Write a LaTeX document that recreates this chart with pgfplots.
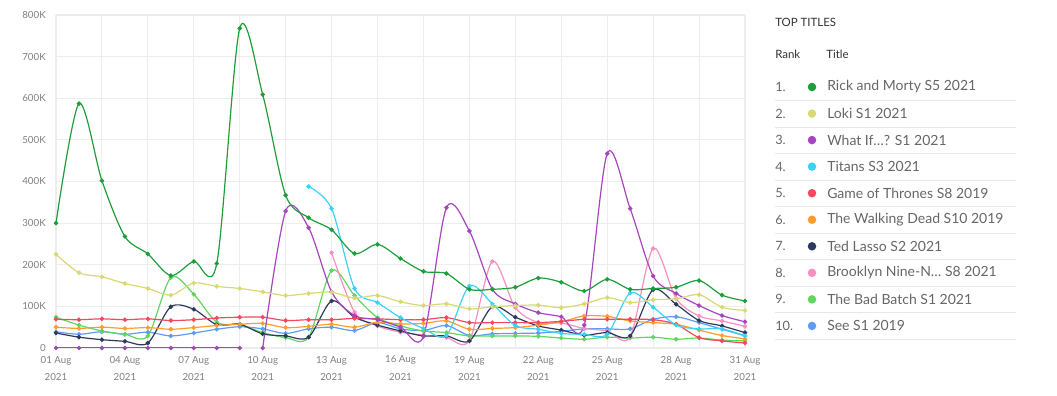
\documentclass[border=0pt]{standalone}
\usepackage{fontspec}
\setmainfont{Lato}
\usepackage{pgfplots}
\pgfplotsset{compat=1.18}
\definecolor{rm}{HTML}{1E9E3A}
\definecolor{loki}{HTML}{D9D872}
\definecolor{wif}{HTML}{A646BE}
\definecolor{tit}{HTML}{3BD2F4}
\definecolor{got}{HTML}{F5475E}
\definecolor{twd}{HTML}{FF9C2E}
\definecolor{ted}{HTML}{2D3A5C}
\definecolor{b99}{HTML}{F78FC0}
\definecolor{bb}{HTML}{5FD65E}
\definecolor{see}{HTML}{5E9CF4}
\definecolor{tickgray}{HTML}{808080}
\definecolor{txtgray}{HTML}{666666}
\definecolor{dark}{HTML}{333333}
\begin{document}
\begin{tikzpicture}[x=0.75pt,y=0.75pt]
\begin{axis}[
  at={(42pt,36pt)}, anchor=south west,
  scale only axis, width=516.75pt, height=249.75pt,
  xmin=1, xmax=31, ymin=0, ymax=800000,
  axis line style={draw=none},
  xtick={1,4,7,10,13,16,19,22,25,28,31},
  xticklabels={01 Aug\\2021,04 Aug\\2021,07 Aug\\2021,10 Aug\\2021,13 Aug\\2021,16 Aug\\2021,19 Aug\\2021,22 Aug\\2021,25 Aug\\2021,28 Aug\\2021,31 Aug\\2021},
  minor xtick={1,3,...,31},
  xmajorgrids=false, xminorgrids=true,
  ytick={0,100000,...,800000},
  yticklabels={0,100K,200K,300K,400K,500K,600K,700K,800K},
  scaled y ticks=false,
  ymajorgrids=true,
  major tick length=0pt, minor tick length=0pt,
  grid style={draw=black!7, line width=0.8pt},
  minor grid style={draw=black!7, line width=0.8pt},
  /pgf/number format/assume math mode=true,
  x tick label style={font=\fontsize{7.3}{12.8}\selectfont, text=tickgray, align=center, inner sep=0pt, yshift=-5.8pt},
  y tick label style={font=\fontsize{7.3}{9}\selectfont, text=tickgray, anchor=east, inner sep=0pt, xshift=-7.5pt},
  every axis plot/.append style={smooth, tension=0.5, line width=0.9pt, mark=*, mark size=1.2pt, mark options={solid}},
]
% See S1 2019
\addplot[color=see] coordinates {(1,39000)(2,33000)(3,39000)(4,33000)(5,38000)(6,29000)(7,36000)(8,45000)(9,51000)(10,46000)(11,35000)(12,46000)(13,50000)(14,42000)(15,61000)(16,46000)(17,42000)(18,54000)(19,30000)(20,34000)(21,35000)(22,36000)(23,40000)(24,46000)(25,46000)(26,46000)(27,69000)(28,75000)(29,61000)(30,45000)(31,29000)};
% The Bad Batch
\addplot[color=bb] coordinates {(1,74000)(2,55000)(3,41000)(4,33000)(5,29000)(6,169000)(7,129000)(8,62000)(9,56000)(10,37000)(11,25000)(12,26000)(13,186000)(14,126000)(15,73000)(16,53000)(17,41000)(18,37000)(19,29000)(20,29000)(21,29000)(22,28000)(23,24000)(24,21000)(25,26000)(26,24000)(27,26000)(28,21000)(29,24000)(30,19000)(31,17000)};
% Brooklyn Nine-Nine
\addplot[color=b99] coordinates {(13,229000)(14,86000)(15,53000)(16,38000)(17,31000)(18,25000)(19,18000)(20,208000)(21,97000)(22,61000)(23,60000)(24,47000)(25,41000)(26,27000)(27,239000)(28,119000)(29,77000)(30,65000)(31,52000)};
% Ted Lasso
\addplot[color=ted] coordinates {(1,36000)(2,26000)(3,20000)(4,16000)(5,12000)(6,99000)(7,93000)(8,56000)(9,57000)(10,34000)(11,29000)(12,26000)(13,113000)(14,74000)(15,55000)(16,41000)(17,29000)(18,29000)(19,17000)(20,99000)(21,74000)(22,53000)(23,43000)(24,31000)(25,37000)(26,29000)(27,140000)(28,105000)(29,66000)(30,53000)(31,37000)};
% The Walking Dead
\addplot[color=twd] coordinates {(1,50000)(2,47000)(3,50000)(4,47000)(5,49000)(6,45000)(7,49000)(8,54000)(9,57000)(10,59000)(11,49000)(12,52000)(13,57000)(14,50000)(15,62000)(16,58000)(17,59000)(18,65000)(19,45000)(20,47000)(21,49000)(22,55000)(23,63000)(24,77000)(25,76000)(26,65000)(27,61000)(28,57000)(29,43000)(30,30000)(31,22000)};
% Game of Thrones
\addplot[color=got] coordinates {(1,69000)(2,68000)(3,70000)(4,68000)(5,70000)(6,66000)(7,68000)(8,72000)(9,74000)(10,74000)(11,66000)(12,68000)(13,68000)(14,71000)(15,70000)(16,68000)(17,68000)(18,73000)(19,61000)(20,61000)(21,61000)(22,61000)(23,64000)(24,69000)(25,69000)(26,69000)(27,68000)(28,57000)(29,25000)(30,17000)(31,12000)};
% Titans
\addplot[color=tit] coordinates {(12,388000)(13,335000)(14,143000)(15,109000)(16,73000)(17,47000)(18,30000)(19,149000)(20,106000)(21,54000)(22,45000)(23,35000)(24,33000)(25,33000)(26,132000)(27,98000)(28,55000)(29,46000)(30,46000)(31,29000)};
% What If
\addplot[color=wif] coordinates {(1,0)(2,0)(3,0)(4,0)(5,0)(6,0)(7,0)(8,0)(9,0)};
\addplot[color=wif] coordinates {(10,0)(11,329000)(12,289000)(13,135000)(14,78000)(15,68000)(16,50000)(17,28000)(18,337000)(19,281000)(20,141000)(21,106000)(22,85000)(23,75000)(24,55000)(25,467000)(26,335000)(27,173000)(28,131000)(29,102000)(30,78000)(31,63000)};
% Loki
\addplot[color=loki] coordinates {(1,225000)(2,181000)(3,171000)(4,155000)(5,143000)(6,127000)(7,156000)(8,148000)(9,143000)(10,135000)(11,126000)(12,131000)(13,134000)(14,120000)(15,126000)(16,111000)(17,102000)(18,106000)(19,94000)(20,99000)(21,102000)(22,103000)(23,97000)(24,106000)(25,121000)(26,109000)(27,116000)(28,118000)(29,128000)(30,98000)(31,90000)};
% Rick and Morty
\addplot[color=rm] coordinates {(1,300000)(2,587000)(3,402000)(4,268000)(5,226000)(6,174000)(7,208000)(8,203000)(9,768000)(10,609000)(11,367000)(12,313000)(13,284000)(14,227000)(15,249000)(16,215000)(17,184000)(18,179000)(19,141000)(20,141000)(21,146000)(22,168000)(23,158000)(24,137000)(25,165000)(26,141000)(27,143000)(28,146000)(29,162000)(30,127000)(31,113000)};
\end{axis}
% legend
\node[anchor=west, inner sep=0pt, text=dark, font=\fontsize{8.6}{10}\selectfont] at (775,374) {TOP TITLES};
\node[anchor=west, inner sep=0pt, text=dark, font=\fontsize{8.6}{10}\selectfont] at (775,342) {Rank};
\node[anchor=west, inner sep=0pt, text=dark, font=\fontsize{8.6}{10}\selectfont] at (826,342) {Title};
\foreach \i/\c/\t in {1/rm/Rick and Morty S5 2021,2/loki/Loki S1 2021,3/wif/What If…? S1 2021,4/tit/Titans S3 2021,5/got/Game of Thrones S8 2019,6/twd/The Walking Dead S10 2019,7/ted/Ted Lasso S2 2021,8/b99/Brooklyn Nine-N… S8 2021,9/bb/The Bad Batch S1 2021,10/see/See S1 2019}{
  \pgfmathsetmacro\yy{309-(\i-1)*26.55}
  \node[anchor=west, inner sep=0pt, text=txtgray, font=\fontsize{9.6}{12}\selectfont] at (775,\yy) {\i.};
  \node[circle, fill=\c, inner sep=0pt, minimum size=6.4pt] at (812,\yy) {};
  \node[anchor=west, inner sep=0pt, text=txtgray, font=\fontsize{10.5}{12}\selectfont] at (827,\yy) {\t};
  \draw[black!9, line width=0.8pt] (775,\yy-13.5) -- (1016,\yy-13.5);
}
\pgfresetboundingbox
\path[use as bounding box] (0,0) rectangle (1057,396);
\end{tikzpicture}
\end{document}
